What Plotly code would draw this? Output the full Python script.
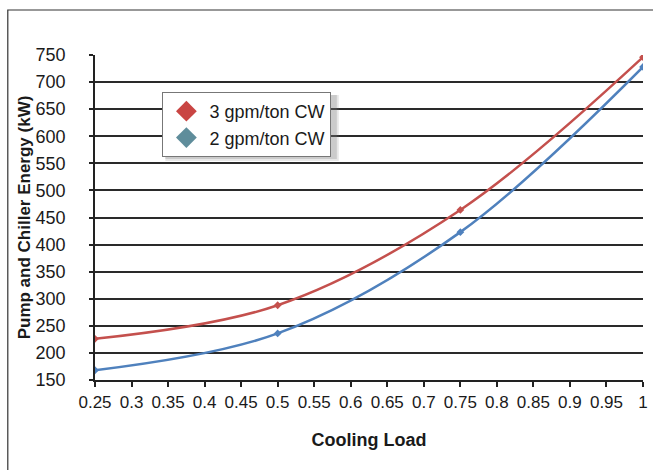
import plotly.graph_objects as go

load = [0.25, 0.5, 0.75, 1.0]
gpm3 = [226, 288, 464, 746]
gpm2 = [168, 236, 423, 728]
names = ["3 gpm/ton CW", "2 gpm/ton CW"]
xticks = [0.25, 0.3, 0.35, 0.4, 0.45, 0.5, 0.55, 0.6, 0.65, 0.7, 0.75, 0.8, 0.85, 0.9, 0.95, 1.0]
xticklabels = ["0.25", "0.3", "0.35", "0.4", "0.45", "0.5", "0.55", "0.6", "0.65", "0.7", "0.75", "0.8", "0.85", "0.9", "0.95", "1"]
yticks = list(range(150, 751, 50))

RED = "#c4504d"
BLUE = "#4f81bd"

W, H = 653, 470
L, R, T, B = 95, 5, 55, 90
pw, ph = W - L - R, H - T - B

def px2x(p):
    return (p - L) / pw

def py2y(p):
    return 1 - (p - T) / ph

fig = go.Figure()
fig.add_trace(go.Scatter(x=load, y=gpm3, mode="lines+markers", line=dict(color=RED, width=2.5, shape="spline", smoothing=1.0),
                         marker=dict(symbol="diamond", size=6, color=RED), showlegend=False))
fig.add_trace(go.Scatter(x=load, y=gpm2, mode="lines+markers", line=dict(color=BLUE, width=2.5, shape="spline", smoothing=1.0),
                         marker=dict(symbol="diamond", size=6, color=BLUE), showlegend=False))
fig.add_trace(go.Scatter(x=[None], y=[None], mode="markers", name=names[0],
                         marker=dict(symbol="diamond", size=16, color="#c94543")))
fig.add_trace(go.Scatter(x=[None], y=[None], mode="markers", name=names[1],
                         marker=dict(symbol="diamond", size=16, color="#5f8d9b")))

shapes = [
    # outer frame
    dict(type="rect", xref="paper", yref="paper", x0=px2x(7), x1=px2x(700), y0=py2y(520), y1=py2y(10),
         line=dict(color="#333333", width=1.2), fillcolor="rgba(0,0,0,0)", layer="below"),
    # legend shadow (soft)
    dict(type="rect", xref="paper", yref="paper", x0=px2x(166), x1=px2x(341), y0=py2y(161), y1=py2y(95),
         line=dict(width=0), fillcolor="rgba(120,120,120,0.18)", layer="above"),
    dict(type="rect", xref="paper", yref="paper", x0=px2x(166), x1=px2x(339), y0=py2y(159), y1=py2y(95),
         line=dict(width=0), fillcolor="rgba(120,120,120,0.25)", layer="above"),
]

fig.update_layout(
    width=W, height=H,
    margin=dict(l=L, r=R, t=T, b=B),
    paper_bgcolor="white", plot_bgcolor="white",
    font=dict(family="Liberation Sans, Arial, sans-serif", color="#1a1a1a"),
    showlegend=True,
    legend=dict(x=px2x(163), y=py2y(92), xanchor="left", yanchor="top",
                bgcolor="white", bordercolor="#777777", borderwidth=1,
                font=dict(size=18, color="#1a1a1a"), itemwidth=36, tracegroupgap=0),
    shapes=shapes,
    xaxis=dict(range=[0.25, 1.0], tickvals=xticks, ticktext=xticklabels, showgrid=False,
               showline=True, linecolor="#222222", linewidth=1.5, ticks="outside", ticklen=5,
               tickcolor="#222222", tickwidth=1.5, tickfont=dict(size=17), zeroline=False,
               title=dict(text="<b>Cooling Load</b>", font=dict(size=18), standoff=22),
               ticklabelstandoff=1),
    yaxis=dict(range=[150, 750], tickvals=yticks, showgrid=True, gridcolor="#2a2a2a", gridwidth=1.5,
               showline=True, linecolor="#222222", linewidth=1.5, ticks="outside", ticklen=4,
               tickcolor="#222222", tickwidth=1.5, tickfont=dict(size=18), zeroline=False,
               ticklabelstandoff=20,
               title=dict(text="<b>Pump and Chiller Energy (kW)</b>", font=dict(size=17), standoff=1)),
)

fig.write_html("out.html")
